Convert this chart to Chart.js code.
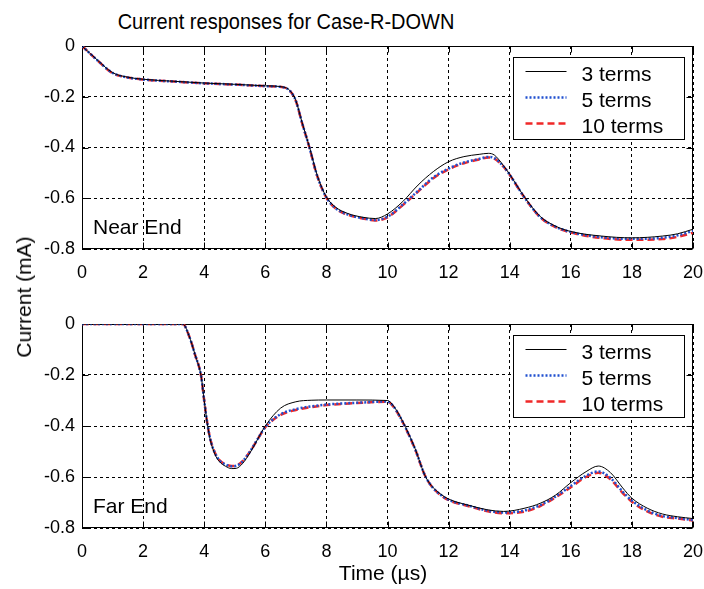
<!DOCTYPE html>
<html>
<head>
<meta charset="utf-8">
<script src="https://cdn.jsdelivr.net/npm/chart.js@4.4.1/dist/chart.umd.min.js"></script>
<style>
  html, body { margin: 0; padding: 0; background: #fff; }
  #wrap { position: relative; width: 704px; height: 589px; overflow: hidden;
          font-family: "Liberation Sans", Arial, Helvetica, sans-serif; color: #000; }
  canvas { position: absolute; left: 0; }
  #nearCanvas { top: 0; }
  #farCanvas { top: 290px; }
  .title { position: absolute; left: 0; top: 10px; width: 572px; text-align: center;
           font-size: 20px; line-height: 24px; white-space: nowrap;
           transform: scaleY(1.08); transform-origin: 50% 100%; }
  .xlabel { position: absolute; left: 283px; top: 561px; width: 200px; text-align: center;
            font-size: 21px; line-height: 24px; white-space: nowrap; }
  .ylabel { position: absolute; left: 24px; top: 297px; font-size: 21px; line-height: 24px;
            white-space: nowrap; transform: translate(-50%, -50%) rotate(-90deg); }
</style>
</head>
<body>
<div id="wrap">
  <div class="title">Current responses for Case-R-DOWN</div>
  <canvas id="nearCanvas" width="704" height="290"></canvas>
  <canvas id="farCanvas" width="704" height="299"></canvas>
  <div class="ylabel">Current (mA)</div>
  <div class="xlabel">Time (µs)</div>
</div>
<script>
// ---- data -------------------------------------------------------------
const seriesLabels = ['3 terms', '5 terms', '10 terms'];
const xTicks = [0, 2, 4, 6, 8, 10, 12, 14, 16, 18, 20];
const yTicks = [-0.8, -0.6, -0.4, -0.2, 0];

// Near end (time in µs, current in mA)
const timeNear = [0, 0.5, 1, 1.5, 2, 3, 4, 5, 6, 6.6, 6.8, 7, 7.2, 7.45, 7.7,
  8, 8.3, 8.7, 9.2, 9.6, 10, 10.5, 11, 11.5, 12, 12.5, 13, 13.3, 13.5, 13.8,
  14, 14.5, 15, 15.5, 16, 17, 18, 19, 19.5, 20];
const near3 = [0, -0.055, -0.105, -0.123, -0.131, -0.139, -0.146, -0.151, -0.157, -0.162, -0.175,
  -0.215, -0.3, -0.4, -0.51, -0.595, -0.635, -0.66, -0.675, -0.68, -0.662, -0.613, -0.548,
  -0.495, -0.456, -0.436, -0.427, -0.423, -0.43, -0.472, -0.506, -0.598, -0.672, -0.71,
  -0.731, -0.749, -0.756, -0.749, -0.74, -0.722];
const near5 = [0, -0.056, -0.106, -0.124, -0.132, -0.14, -0.147, -0.152, -0.158, -0.163, -0.176,
  -0.216, -0.301, -0.402, -0.512, -0.597, -0.639, -0.664, -0.679, -0.686, -0.673, -0.625, -0.571,
  -0.518, -0.483, -0.459, -0.445, -0.437, -0.442, -0.475, -0.507, -0.6, -0.674, -0.712,
  -0.733, -0.754, -0.76, -0.756, -0.746, -0.729];
const near10 = [0, -0.056, -0.107, -0.124, -0.132, -0.14, -0.147, -0.152, -0.158, -0.163, -0.176,
  -0.217, -0.302, -0.403, -0.513, -0.598, -0.64, -0.665, -0.68, -0.688, -0.675, -0.627, -0.574,
  -0.521, -0.486, -0.462, -0.447, -0.439, -0.444, -0.476, -0.508, -0.6, -0.675, -0.714,
  -0.735, -0.757, -0.764, -0.761, -0.752, -0.736];

// Far end
const timeFar = [0, 1, 2, 3, 3.3, 3.5, 3.7, 3.9, 4.0, 4.1, 4.2, 4.35, 4.5, 4.7, 4.9, 5.05,
  5.25, 5.5, 5.75, 6, 6.5, 7, 7.5, 8, 9, 10, 10.2, 10.4, 10.6, 10.9, 11.25, 11.75, 12.7,
  13.8, 14.5, 15, 15.5, 16, 16.5, 16.9, 17.3, 17.7, 18, 18.5, 19, 19.5, 20];
const far3 = [0, 0, 0, 0, 0, -0.045, -0.12, -0.205, -0.3, -0.39, -0.455, -0.51, -0.54,
  -0.558, -0.567, -0.566, -0.548, -0.505, -0.452, -0.4, -0.33, -0.305, -0.299, -0.298,
  -0.298, -0.3, -0.322, -0.36, -0.407, -0.488, -0.6, -0.668, -0.712, -0.735, -0.722,
  -0.703, -0.671, -0.622, -0.579, -0.557, -0.583, -0.643, -0.683, -0.722, -0.745,
  -0.756, -0.763];
const far5 = [0, 0, 0, 0, 0, -0.045, -0.12, -0.205, -0.3, -0.388, -0.452, -0.506, -0.535,
  -0.551, -0.558, -0.556, -0.54, -0.5, -0.451, -0.404, -0.354, -0.334, -0.323, -0.316,
  -0.309, -0.304, -0.324, -0.362, -0.409, -0.489, -0.6, -0.671, -0.714, -0.739, -0.731,
  -0.71, -0.677, -0.635, -0.595, -0.578, -0.604, -0.658, -0.693, -0.731, -0.753,
  -0.761, -0.769];
const far10 = [0, 0, 0, 0, 0, -0.045, -0.12, -0.205, -0.3, -0.388, -0.451, -0.505, -0.534,
  -0.55, -0.557, -0.555, -0.539, -0.5, -0.452, -0.405, -0.357, -0.337, -0.326, -0.318,
  -0.31, -0.305, -0.325, -0.363, -0.41, -0.49, -0.6, -0.672, -0.716, -0.742, -0.735,
  -0.714, -0.68, -0.64, -0.6, -0.583, -0.609, -0.663, -0.697, -0.735, -0.756,
  -0.763, -0.771];

// ---- styling ----------------------------------------------------------
const FONT = '"Liberation Sans", Arial, Helvetica, sans-serif';
const lineStyles = [
  { color: '#000000', width: 1, dash: [] },
  { color: '#2050d0', width: 2.5, dash: [2, 2] },
  { color: '#f02828', width: 2.5, dash: [7, 4] }
];

// Solid box around the plot area with short inward tick marks
const framePlugin = {
  id: 'frame',
  beforeDatasetsDraw(chart) {
    const { ctx, chartArea: a, scales } = chart;
    const L = Math.round(a.left) + 0.5, R = Math.round(a.right) - 0.5;
    const T = Math.round(a.top) + 0.5, B = Math.round(a.bottom) - 0.5;
    ctx.save();
    ctx.strokeStyle = '#000';
    ctx.lineWidth = 1;
    ctx.setLineDash([]);
    ctx.strokeRect(L, T, R - L, B - T);
    const len = 6;
    ctx.beginPath();
    xTicks.forEach(v => {
      const px = Math.round(scales.x.getPixelForValue(v)) + 0.5;
      ctx.moveTo(px, B); ctx.lineTo(px, B - len);
      ctx.moveTo(px, T); ctx.lineTo(px, T + len);
    });
    yTicks.forEach(v => {
      const py = Math.round(scales.y.getPixelForValue(v)) + 0.5;
      ctx.moveTo(L, py); ctx.lineTo(L + len, py);
      ctx.moveTo(R, py); ctx.lineTo(R - len, py);
    });
    ctx.stroke();
    ctx.restore();
  }
};

// Boxed legend in the upper right corner of the plot area, plus corner caption
const insetPlugin = {
  id: 'inset',
  afterDatasetsDraw(chart, args, opts) {
    const { ctx, chartArea: a } = chart;
    ctx.save();
    // caption
    ctx.font = '21px ' + FONT;
    ctx.fillStyle = '#000';
    ctx.textBaseline = 'alphabetic';
    ctx.textAlign = 'left';
    ctx.fillText(opts.caption, a.left + 11, a.bottom - 15);
    // legend box
    const bx = Math.round(a.right - 180) + 0.5, by = Math.round(a.top + 11) + 0.5;
    const bw = 171, bh = 82;
    ctx.fillStyle = '#fff';
    ctx.fillRect(bx, by, bw, bh);
    ctx.strokeStyle = '#000';
    ctx.lineWidth = 1;
    ctx.setLineDash([]);
    ctx.strokeRect(bx, by, bw, bh);
    chart.data.datasets.forEach((ds, i) => {
      const ry = by + 14 + i * 26;
      ctx.save();
      ctx.strokeStyle = ds.borderColor;
      ctx.lineWidth = ds.borderWidth;
      ctx.setLineDash(ds.borderDash);
      ctx.beginPath();
      ctx.moveTo(bx + 12, ry);
      ctx.lineTo(bx + 53, ry);
      ctx.stroke();
      ctx.restore();
      ctx.fillStyle = '#000';
      ctx.font = '21px ' + FONT;
      ctx.fillText(ds.label, bx + 68, ry + 9.5);
    });
    ctx.restore();
  }
};

function makeChart(canvasId, time, seriesValues, caption, topPad, xAxisHeight) {
  const datasets = seriesValues.map((vals, i) => ({
    label: seriesLabels[i],
    data: time.map((t, k) => ({ x: t, y: vals[k] })),
    borderColor: lineStyles[i].color,
    borderWidth: lineStyles[i].width,
    borderDash: lineStyles[i].dash,
    pointRadius: 0,
    fill: false,
    cubicInterpolationMode: 'monotone'
  }));
  return new Chart(document.getElementById(canvasId), {
    type: 'line',
    data: { datasets },
    plugins: [framePlugin, insetPlugin],
    options: {
      responsive: false,
      animation: false,
      devicePixelRatio: 1,
      layout: { padding: { left: 0, right: 11, top: topPad, bottom: 0 } },
      plugins: {
        legend: { display: false },
        title: { display: false },
        tooltip: { enabled: false },
        inset: { caption }
      },
      scales: {
        x: {
          type: 'linear', min: 0, max: 20,
          afterBuildTicks: s => { s.ticks = xTicks.map(v => ({ value: v })); },
          afterFit: s => { s.height = xAxisHeight; s.paddingLeft = 0; s.paddingRight = 0; },
          ticks: { color: '#000', font: { family: FONT, size: 18 }, padding: 13,
                   maxRotation: 0, autoSkip: false },
          grid: { color: '#000', lineWidth: 1, drawTicks: false },
          border: { display: false, dash: [3, 3] }
        },
        y: {
          type: 'linear', min: -0.8, max: 0,
          afterBuildTicks: s => { s.ticks = yTicks.map(v => ({ value: v })); },
          afterFit: s => { s.width = 82; s.paddingTop = 0; s.paddingBottom = 0; },
          ticks: { color: '#000', font: { family: FONT, size: 18 }, padding: 7,
                   callback: v => (v === 0 ? '0' : v.toFixed(1)) },
          grid: { color: '#000', lineWidth: 1, drawTicks: false },
          border: { display: false, dash: [3, 3] }
        }
      }
    }
  });
}

makeChart('nearCanvas', timeNear, [near3, near5, near10], 'Near End', 46, 41);
makeChart('farCanvas', timeFar, [far3, far5, far10], 'Far End', 34, 61);
</script>
</body>
</html>
